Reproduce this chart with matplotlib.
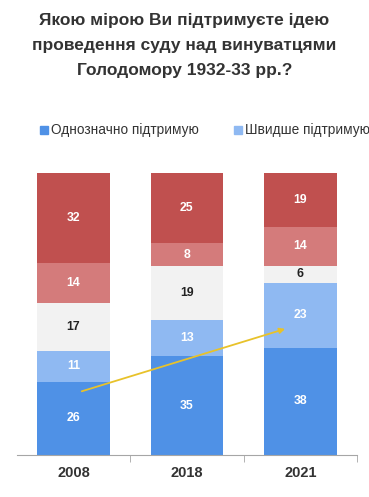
import matplotlib.pyplot as plt
import numpy as np

plt.rcParams['font.family'] = ['Liberation Sans', 'DejaVu Sans']

years = ['2008', '2018', '2021']
definitely = [26, 35, 38]
rather = [11, 13, 23]
hard_to_say = [17, 19, 6]
rather_not = [14, 8, 14]
definitely_not = [32, 25, 19]

series = [definitely, rather, hard_to_say, rather_not, definitely_not]
colors = ['#4f91e6', '#8fb9f2', '#f2f2f2', '#d47b7b', '#c0504f']
text_colors = ['white', 'white', '#222222', 'white', 'white']
legend_labels = ['Однозначно підтримую', 'Швидше підтримую']

fig = plt.figure(figsize=(3.69, 4.97), dpi=100)
ax = fig.add_axes([0.0454, 0.0845, 0.922, 0.5675])

x = np.arange(len(years))
bottom = np.zeros(len(years))
for vals, c, tc in zip(series, colors, text_colors):
    ax.bar(x, vals, bottom=bottom, width=0.64, color=c, edgecolor='none')
    for xi, b, v in zip(x, bottom, vals):
        ax.text(xi, b + v / 2, str(v), ha='center', va='center',
                color=tc, fontsize=8.8, fontweight='bold')
    bottom += vals

# trend arrow
ax.annotate('', xy=(1.89, 45), xytext=(0.05, 22.3),
            arrowprops=dict(arrowstyle='-|>', color='#e8c22a', lw=1.3,
                            mutation_scale=8))

ax.set_xlim(-0.5, 2.5)
ax.set_ylim(0, 100)
for s in ['top', 'right', 'left']:
    ax.spines[s].set_visible(False)
ax.spines['bottom'].set_color('#a6a6a6')
ax.set_yticks([])
ax.set_xticks(x)
ax.set_xticklabels(years, fontsize=10.5, fontweight='bold', color='#333333')
ax.tick_params(axis='x', length=0, pad=8)
ax.set_xticks([0.5, 1.5, 2.5], minor=True)
ax.tick_params(axis='x', which='minor', length=5, color='#a6a6a6')

fig.text(0.5, 0.974, 'Якою мірою Ви підтримуєте ідею\nпроведення суду над винуватцями\nГолодомору 1932-33 рр.?',
         ha='center', va='top', fontsize=12.5, fontweight='bold', color='#333333',
         linespacing=1.82)

# legend
for lx, lab, c in zip([0.108, 0.633], legend_labels, colors[:2]):
    fig.patches.append(plt.Rectangle((lx, 0.731), 0.022, 0.016, color=c,
                                     transform=fig.transFigure, figure=fig))
    fig.text(lx + 0.031, 0.739, lab, ha='left', va='center', fontsize=9.8,
             color='#333333')

fig.savefig('out.png', dpi=100)
